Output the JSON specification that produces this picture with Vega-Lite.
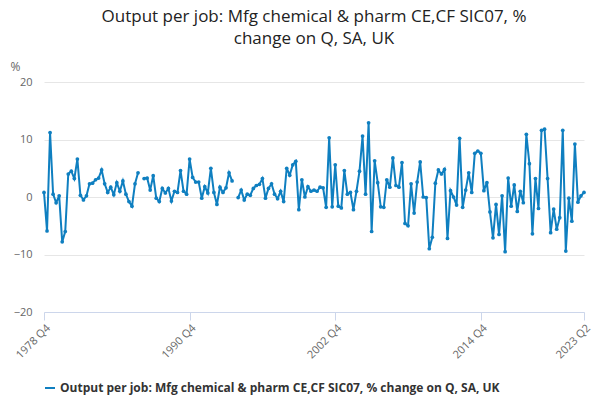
{
  "$schema": "https://vega.github.io/schema/vega-lite/v6.json",
  "width": 540,
  "height": 230,
  "padding": {"left": 10, "right": 17, "top": 8, "bottom": 5},
  "title": {
    "text": ["Output per job: Mfg chemical & pharm CE,CF SIC07, %", "change on Q, SA, UK"],
    "fontSize": 17,
    "fontWeight": "normal",
    "lineHeight": 22,
    "color": "#222222",
    "font": "Open Sans",
    "anchor": "middle",
    "offset": 12
  },
  "config": {"font": "Open Sans", "view": {"stroke": null}},
  "data": {
    "values": [
      {"q":"1978 Q4","v":0.8},
      {"q":"1979 Q1","v":-5.9},{"q":"1979 Q2","v":11.2},{"q":"1979 Q3","v":0.5},{"q":"1979 Q4","v":-1},
      {"q":"1980 Q1","v":0.2},{"q":"1980 Q2","v":-7.8},{"q":"1980 Q3","v":-6},{"q":"1980 Q4","v":4},
      {"q":"1981 Q1","v":4.5},{"q":"1981 Q2","v":3.2},{"q":"1981 Q3","v":6.6},{"q":"1981 Q4","v":0.3},
      {"q":"1982 Q1","v":-0.5},{"q":"1982 Q2","v":0.2},{"q":"1982 Q3","v":2.3},{"q":"1982 Q4","v":2.4},
      {"q":"1983 Q1","v":3},{"q":"1983 Q2","v":3.3},{"q":"1983 Q3","v":4.7},{"q":"1983 Q4","v":2.3},
      {"q":"1984 Q1","v":0.8},{"q":"1984 Q2","v":1.7},{"q":"1984 Q3","v":0.4},{"q":"1984 Q4","v":2.5},
      {"q":"1985 Q1","v":1},{"q":"1985 Q2","v":2.8},{"q":"1985 Q3","v":0.5},{"q":"1985 Q4","v":-0.8},
      {"q":"1986 Q1","v":-1.6},{"q":"1986 Q2","v":2.3},{"q":"1986 Q3","v":4.2},{"q":"1986 Q4","v":null},
      {"q":"1987 Q1","v":3.2},{"q":"1987 Q2","v":3.3},{"q":"1987 Q3","v":1.2},{"q":"1987 Q4","v":3.7},
      {"q":"1988 Q1","v":-0.2},{"q":"1988 Q2","v":-0.8},{"q":"1988 Q3","v":1.5},{"q":"1988 Q4","v":0.7},
      {"q":"1989 Q1","v":1.5},{"q":"1989 Q2","v":-0.7},{"q":"1989 Q3","v":1},{"q":"1989 Q4","v":0.8},
      {"q":"1990 Q1","v":4.6},{"q":"1990 Q2","v":1},{"q":"1990 Q3","v":0.5},{"q":"1990 Q4","v":6.6},
      {"q":"1991 Q1","v":3.4},{"q":"1991 Q2","v":2.6},{"q":"1991 Q3","v":2.6},{"q":"1991 Q4","v":-0.2},
      {"q":"1992 Q1","v":1.8},{"q":"1992 Q2","v":0.7},{"q":"1992 Q3","v":5},{"q":"1992 Q4","v":0.8},
      {"q":"1993 Q1","v":-1.3},{"q":"1993 Q2","v":1.7},{"q":"1993 Q3","v":0.8},{"q":"1993 Q4","v":1.6},
      {"q":"1994 Q1","v":4.2},{"q":"1994 Q2","v":2.8},{"q":"1994 Q3","v":null},{"q":"1994 Q4","v":-0.1},
      {"q":"1995 Q1","v":1.2},{"q":"1995 Q2","v":-0.5},{"q":"1995 Q3","v":0.5},{"q":"1995 Q4","v":0.3},
      {"q":"1996 Q1","v":1.5},{"q":"1996 Q2","v":2},{"q":"1996 Q3","v":2.2},{"q":"1996 Q4","v":3.2},
      {"q":"1997 Q1","v":-0.2},{"q":"1997 Q2","v":1.5},{"q":"1997 Q3","v":2.3},{"q":"1997 Q4","v":0.5},
      {"q":"1998 Q1","v":-0.3},{"q":"1998 Q2","v":1},{"q":"1998 Q3","v":-0.8},{"q":"1998 Q4","v":5},
      {"q":"1999 Q1","v":3.8},{"q":"1999 Q2","v":5.6},{"q":"1999 Q3","v":6.2},{"q":"1999 Q4","v":-2.2},
      {"q":"2000 Q1","v":3},{"q":"2000 Q2","v":0},{"q":"2000 Q3","v":1.8},{"q":"2000 Q4","v":1},
      {"q":"2001 Q1","v":1.2},{"q":"2001 Q2","v":1},{"q":"2001 Q3","v":1.7},{"q":"2001 Q4","v":1.6},
      {"q":"2002 Q1","v":-1.8},{"q":"2002 Q2","v":10.3},{"q":"2002 Q3","v":-1.7},{"q":"2002 Q4","v":5.6},
      {"q":"2003 Q1","v":-1.6},{"q":"2003 Q2","v":-1.9},{"q":"2003 Q3","v":4.6},{"q":"2003 Q4","v":0.5},
      {"q":"2004 Q1","v":0.8},{"q":"2004 Q2","v":-2.2},{"q":"2004 Q3","v":1},{"q":"2004 Q4","v":4.5},
      {"q":"2005 Q1","v":10.6},{"q":"2005 Q2","v":0.5},{"q":"2005 Q3","v":12.9},{"q":"2005 Q4","v":-6},
      {"q":"2006 Q1","v":6.3},{"q":"2006 Q2","v":2.5},{"q":"2006 Q3","v":-1.7},{"q":"2006 Q4","v":-1.8},
      {"q":"2007 Q1","v":3},{"q":"2007 Q2","v":1.7},{"q":"2007 Q3","v":6.8},{"q":"2007 Q4","v":2},
      {"q":"2008 Q1","v":1.7},{"q":"2008 Q2","v":6},{"q":"2008 Q3","v":-4.6},{"q":"2008 Q4","v":-5},
      {"q":"2009 Q1","v":2.3},{"q":"2009 Q2","v":-2.8},{"q":"2009 Q3","v":2.6},{"q":"2009 Q4","v":6.1},
      {"q":"2010 Q1","v":0},{"q":"2010 Q2","v":-0.1},{"q":"2010 Q3","v":-9},{"q":"2010 Q4","v":-7},
      {"q":"2011 Q1","v":2.4},{"q":"2011 Q2","v":4.7},{"q":"2011 Q3","v":4},{"q":"2011 Q4","v":4.8},
      {"q":"2012 Q1","v":-7.2},{"q":"2012 Q2","v":1.1},{"q":"2012 Q3","v":0},{"q":"2012 Q4","v":-1.4},
      {"q":"2013 Q1","v":10.2},{"q":"2013 Q2","v":-1.8},{"q":"2013 Q3","v":1.2},{"q":"2013 Q4","v":4.2},
      {"q":"2014 Q1","v":0.8},{"q":"2014 Q2","v":7.6},{"q":"2014 Q3","v":8},{"q":"2014 Q4","v":7.6},
      {"q":"2015 Q1","v":1.1},{"q":"2015 Q2","v":2.5},{"q":"2015 Q3","v":-2.6},{"q":"2015 Q4","v":-7.1},
      {"q":"2016 Q1","v":-1.3},{"q":"2016 Q2","v":-6.5},{"q":"2016 Q3","v":0.2},{"q":"2016 Q4","v":-9.5},
      {"q":"2017 Q1","v":3.3},{"q":"2017 Q2","v":-1.6},{"q":"2017 Q3","v":2.1},{"q":"2017 Q4","v":-2.5},
      {"q":"2018 Q1","v":1},{"q":"2018 Q2","v":-1},{"q":"2018 Q3","v":10.9},{"q":"2018 Q4","v":5.8},
      {"q":"2019 Q1","v":-6.4},{"q":"2019 Q2","v":3.2},{"q":"2019 Q3","v":-2},{"q":"2019 Q4","v":11.6},
      {"q":"2020 Q1","v":11.8},{"q":"2020 Q2","v":3.2},{"q":"2020 Q3","v":-6.2},{"q":"2020 Q4","v":-2.1},
      {"q":"2021 Q1","v":-5.6},{"q":"2021 Q2","v":-3.6},{"q":"2021 Q3","v":11.6},{"q":"2021 Q4","v":-9.4},
      {"q":"2022 Q1","v":-0.2},{"q":"2022 Q2","v":-4.2},{"q":"2022 Q3","v":9.2},{"q":"2022 Q4","v":-0.9},
      {"q":"2023 Q1","v":0.2},{"q":"2023 Q2","v":0.8}
    ]
  },
  "transform": [{"calculate": "'Output per job: Mfg chemical & pharm CE,CF SIC07, % change on Q, SA, UK'", "as": "s"}],
  "mark": {"type": "line", "strokeWidth": 2, "point": {"size": 14, "filled": true}},
  "encoding": {
    "x": {
      "field": "q",
      "type": "ordinal",
      "sort": null,
      "scale": {"type": "point", "padding": 0},
      "axis": {
        "title": "Source:",
        "titleAnchor": "end",
        "titleAlign": "right",
        "titleX": 558,
        "titleY": 96,
        "titleFontWeight": "normal",
        "titleFontSize": 12,
        "titleColor": "#666666",
        "values": ["1978 Q4", "1990 Q4", "2002 Q4", "2014 Q4", "2023 Q2"],
        "labelAngle": -45,
        "labelFontSize": 11,
        "labelColor": "#666666",
        "domainColor": "#ccd6eb",
        "tickColor": "#ccd6eb",
        "tickSize": 8,
        "labelOverlap": false
      }
    },
    "y": {
      "field": "v",
      "type": "quantitative",
      "scale": {"domain": [-20, 20]},
      "axis": {
        "values": [-20, -10, 0, 10, 20],
        "title": "%",
        "titleAngle": 0,
        "titleAlign": "left",
        "titleBaseline": "bottom",
        "titleX": -34,
        "titleY": -9,
        "titleFontWeight": "normal",
        "titleFontSize": 12,
        "titleColor": "#666666",
        "labelFontSize": 11,
        "labelColor": "#666666",
        "domain": false,
        "ticks": false,
        "gridColor": "#e6e6e6",
        "labelPadding": 12
      }
    },
    "color": {
      "field": "s",
      "type": "nominal",
      "scale": {"range": ["#0f7fc0"]},
      "legend": {
        "title": null,
        "orient": "none",
        "legendX": 0,
        "legendY": 300,
        "labelFontSize": 12,
        "labelFontWeight": "bold",
        "labelColor": "#333333",
        "labelLimit": 600,
        "symbolType": "stroke",
        "symbolStrokeWidth": 2
      }
    }
  }
}
